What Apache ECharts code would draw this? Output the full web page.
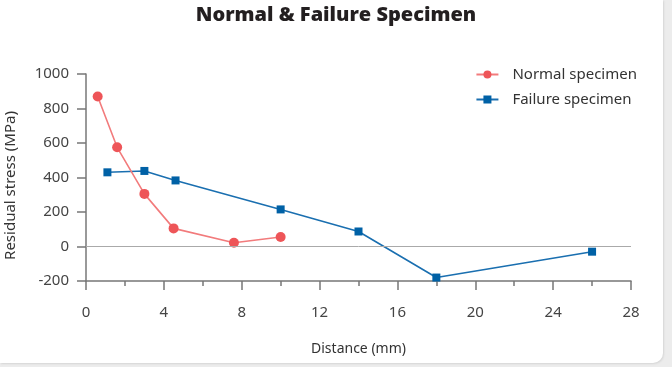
<!DOCTYPE html>
<html>
<head>
<meta charset="utf-8">
<script src="https://cdn.jsdelivr.net/npm/echarts@6/dist/echarts.min.js"></script>
<style>
  html, body { margin: 0; padding: 0; background: #ececec; }
  #card { position: absolute; left: 0; top: 0; width: 663px; height: 363px; background: #fff;
          border-bottom-right-radius: 10px; box-shadow: 1px 1px 2px #d6d6d6; }
  #result { position: absolute; left: 0; top: 0; width: 672px; height: 367px; }
</style>
</head>
<body>
<div id="card"></div>
<div id="result"></div>
<script>
// data
var normalDistance = [0.6, 1.6, 3.0, 4.5, 7.6, 10.0];
var normalStress = [870, 575, 305, 105, 22, 55];
var failureDistance = [1.1, 3.0, 4.6, 10.0, 14.0, 18.0, 26.0];
var failureStress = [430, 438, 383, 215, 87, -180, -30];
var xTicks = [0, 4, 8, 12, 16, 20, 24, 28];
var yTicks = [-200, 0, 200, 400, 600, 800, 1000];

function pairs(xs, ys){
	var out = [];
	for (var i = 0; i < xs.length; i++){
		out.push([xs[i], ys[i]]);
	}
	return out;
}

var fontName = 'Noto Sans';
var myChart = echarts.init(document.getElementById('result'));
var option = {
	animation: false,
	title: {
		text: 'Normal & Failure Specimen',
		left: 'center', top: 0,
		textStyle: {fontFamily: 'Open Sans', fontSize: 20, fontWeight: 800, color: '#231f20'}
	},
	legend: {
		orient: 'vertical',
		right: 30, top: 62,
		itemWidth: 22, itemHeight: 10, itemGap: 10,
		textStyle: {fontFamily: fontName, fontSize: 15, color: '#333', padding: [0, 0, 0, 9]},
		data: ['Normal specimen', 'Failure specimen']
	},
	grid: {left: 86, right: 41, top: 74, bottom: 86, outerBoundsMode: 'none'},
	xAxis: {
		type: 'value',
		min: xTicks[0], max: xTicks[xTicks.length - 1], interval: 4,
		name: 'Distance (mm)', nameLocation: 'middle', nameGap: 61,
		nameTextStyle: {fontFamily: fontName, fontSize: 14, color: '#333'},
		axisLine: {onZero: false, lineStyle: {color: '#777', width: 1.5}},
		axisTick: {length: 9, lineStyle: {color: '#777', width: 1.5}},
		minorTick: {show: true, splitNumber: 2, length: 5, lineStyle: {color: '#777', width: 1.5}},
		axisLabel: {fontFamily: fontName, fontSize: 15, color: '#444', margin: 24},
		splitLine: {show: false}
	},
	yAxis: {
		type: 'value',
		min: yTicks[0], max: yTicks[yTicks.length - 1], interval: 200,
		name: 'Residual stress (MPa)', nameLocation: 'middle', nameGap: 68,
		nameTextStyle: {fontFamily: fontName, fontSize: 15, color: '#333', padding: [0, 16, 0, 0]},
		axisLine: {show: true, onZero: false, lineStyle: {color: '#777', width: 1.5}},
		axisTick: {show: true, length: 9, lineStyle: {color: '#777', width: 1.5}},
		axisLabel: {fontFamily: fontName, fontSize: 15, color: '#444', margin: 17,
			formatter: function(value){ return String(value); }},
		splitLine: {show: false}
	},
	series: [
		{
			name: 'Normal specimen',
			type: 'line',
			data: pairs(normalDistance, normalStress),
			symbol: 'circle', symbolSize: 10,
			itemStyle: {color: '#ee5558'},
			lineStyle: {color: '#f27b7c', width: 1.6},
			z: 3,
			markLine: {
				silent: true, symbol: 'none',
				label: {show: false},
				lineStyle: {color: '#aaa', width: 1, type: 'solid'},
				data: [{yAxis: 0}]
			}
		},
		{
			name: 'Failure specimen',
			type: 'line',
			data: pairs(failureDistance, failureStress),
			symbol: 'rect', symbolSize: 8,
			itemStyle: {color: '#0061a6'},
			lineStyle: {color: '#1a6fb0', width: 1.6},
			z: 2
		}
	]
};
myChart.setOption(option);
</script>
</body>
</html>
